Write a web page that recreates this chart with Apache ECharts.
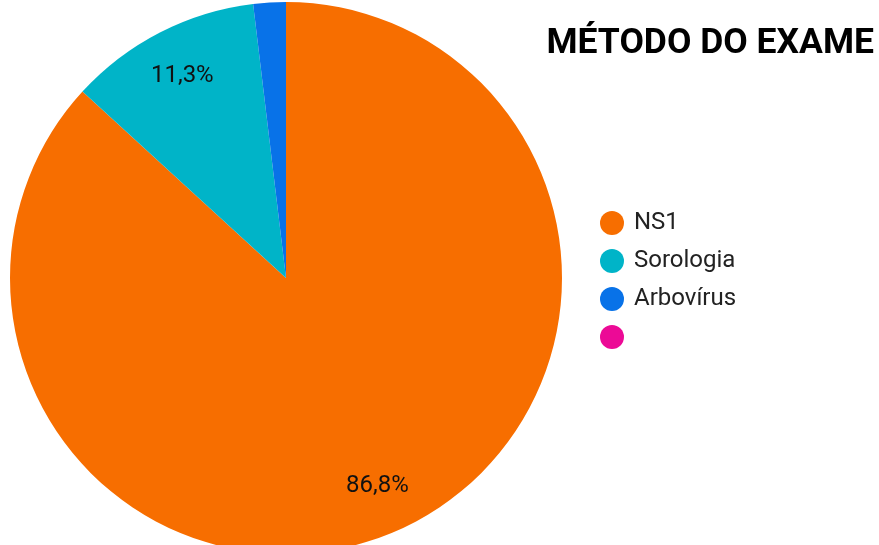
<!DOCTYPE html>
<html>
<head>
<meta charset="utf-8">
<script src="https://cdn.jsdelivr.net/npm/echarts@6/dist/echarts.min.js"></script>
<style>html,body{margin:0;padding:0;background:#fff}#c{width:879px;height:545px}</style>
</head>
<body>
<div id="c"></div>
<script>
const categories = ['NS1', 'Sorologia', 'Arbovírus', ' '];
const values = [86.8, 11.3, 1.9, 0];
const colors = ['#F76E00', '#00B4C8', '#0872E8', '#EC0A96'];
const titleText = 'MÉTODO DO EXAME';

const chart = echarts.init(document.getElementById('c'));
const data = categories.map((n, i) => ({ name: n, value: values[i] }));
const fmt = p => (p.percent < 5 ? '' : p.value.toFixed(1).replace('.', ',') + '%');

chart.setOption({
  animation: false,
  color: colors,
  title: {
    text: titleText,
    right: 0,
    top: 21,
    textStyle: { fontFamily: 'Roboto', fontWeight: 'bold', fontSize: 35.5, color: '#000' }
  },
  legend: {
    orient: 'vertical',
    left: 595,
    top: 206,
    icon: 'circle',
    itemWidth: 24,
    itemHeight: 24,
    itemGap: 14,
    data: categories,
    textStyle: { fontFamily: 'Roboto', fontSize: 24, color: '#222', padding: [0, 0, 0, 5] }
  },
  series: [
    {
      type: 'pie',
      center: [286, 278],
      radius: [0, 276],
      startAngle: 90,
      clockwise: true,
      label: { show: false },
      labelLine: { show: false },
      emphasis: { disabled: true },
      data: data
    },
    {
      type: 'pie',
      center: [286, 278],
      radius: [172, 276],
      startAngle: 90,
      clockwise: true,
      silent: true,
      itemStyle: { color: 'transparent' },
      label: {
        show: true,
        position: 'inside',
        formatter: fmt,
        fontFamily: 'Roboto',
        fontSize: 24,
        color: '#111'
      },
      labelLine: { show: false },
      emphasis: { disabled: true },
      data: data
    }
  ]
});
</script>
</body>
</html>
